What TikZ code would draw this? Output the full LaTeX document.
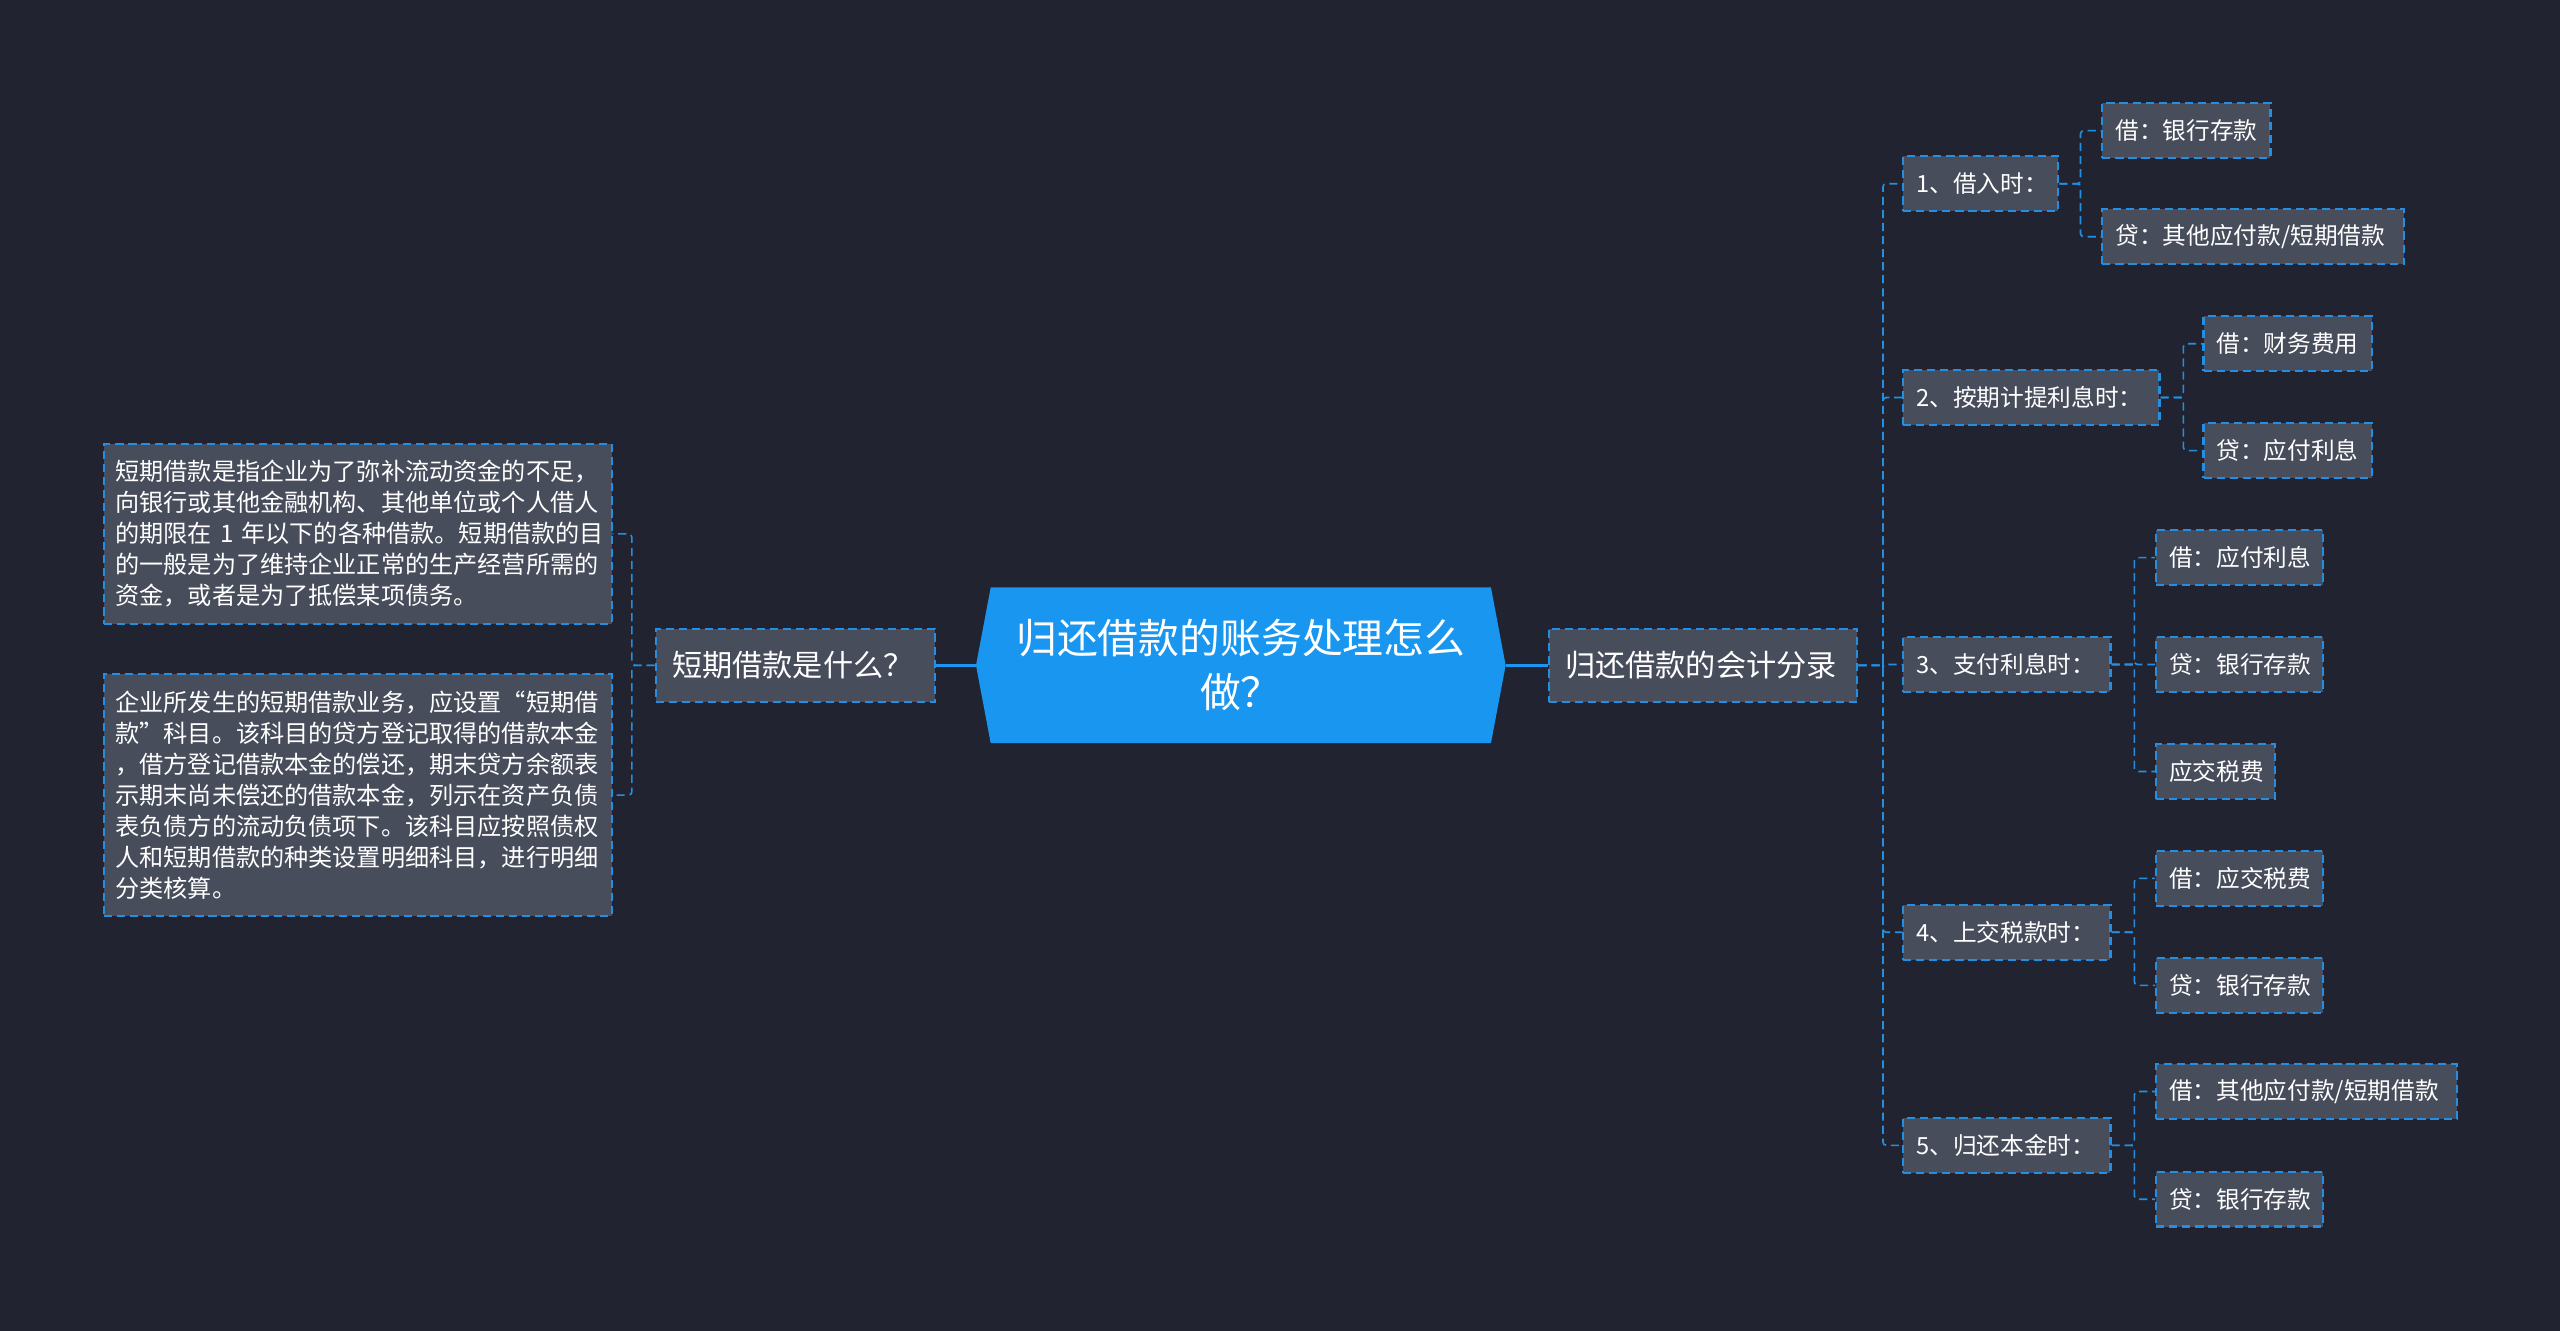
\documentclass[tikz,border=0pt]{standalone}
\usepackage{fontspec}
\setmainfont{Noto Sans CJK SC}
\usetikzlibrary{calc,backgrounds}
\definecolor{bgcol}{RGB}{33,36,48}
\definecolor{boxfill}{RGB}{72,77,92}
\definecolor{bordercol}{RGB}{36,142,226}
\definecolor{rootblue}{RGB}{24,150,240}
\tikzset{
  box/.style={draw=bordercol, fill=boxfill, dash pattern=on 5pt off 3pt, line width=1.3pt,
    text=white, font=\fontsize{14.5}{19}\selectfont, inner xsep=8pt, inner ysep=0pt,
    minimum height=33.5pt, anchor=west, align=left},
  bigbox/.style={box, font=\fontsize{18.5}{22}\selectfont, inner xsep=10pt, minimum height=45pt},
  parabox/.style={box, font=\fontsize{14.8}{19}\selectfont, text width=297pt, inner xsep=7pt, inner ysep=7pt},
  conn/.style={draw=bordercol, line width=1pt, dash pattern=on 5pt off 3pt, rounded corners=2pt},
  rootline/.style={draw=rootblue, line width=2.2pt},
}
\begin{document}
\begin{tikzpicture}[x=1pt,y=-1pt]
\begin{scope}[on background layer]
\fill[bgcol] (0,0) rectangle (1568,815);
\end{scope}
\useasboundingbox (0,0) rectangle (1568,815);

% root
\node[text=white, font=\fontsize{25}{33}\selectfont, minimum width=306pt, minimum height=95pt,
      text width=290pt, align=center, inner sep=0pt] (root) at (760,407.5)
      {归还借款的账务处理怎么\\做？};
\begin{scope}[on background layer]
\fill[rootblue] (root.north west) -- ([xshift=-9pt]root.west) -- (root.south west)
   -- (root.south east) -- ([xshift=9pt]root.east) -- (root.north east) -- cycle;
\end{scope}

% first level
\node[bigbox, text width=151pt] (q) at (401,407.5) {短期借款是什么？};
\node[bigbox, text width=169pt] (r) at (948,407.5) {归还借款的会计分录};

% left paragraphs
\node[parabox, minimum height=110pt] (la) at (63,327) {短期借款是指企业为了弥补流动资金的不足，\\向银行或其他金融机构、其他单位或个人借人\\\mbox{的期限在 1 年以下的各种借款。短期借款的目}\\的一般是为了维持企业正常的生产经营所需的\\资金，或者是为了抵偿某项债务。};
\node[parabox, minimum height=148pt] (lb) at (63,487) {企业所发生的短期借款业务，应设置“短期借\\款”科目。该科目的贷方登记取得的借款本金\\，借方登记借款本金的偿还，期末贷方余额表\\示期末尚未偿还的借款本金，列示在资产负债\\表负债方的流动负债项下。该科目应按照债权\\人和短期借款的种类设置明细科目，进行明细\\分类核算。};

% second level
\node[box, text width=79pt] (a1) at (1165,112.5) {1、借入时：};
\node[box, text width=141pt] (a2) at (1165,243.5) {2、按期计提利息时：};
\node[box, text width=111pt] (a3) at (1165,407) {3、支付利息时：};
\node[box, text width=111pt] (a4) at (1165,571) {4、上交税款时：};
\node[box, text width=111pt] (a5) at (1165,701.5) {5、归还本金时：};

% leaves
\node[box, text width=87pt] (b11) at (1287,80) {借：银行存款};
\node[box, text width=169pt] (b12) at (1287,145) {贷：其他应付款/短期借款};
\node[box, text width=87pt] (b21) at (1349,210.5) {借：财务费用};
\node[box, text width=87pt] (b22) at (1349,276) {贷：应付利息};
\node[box, text width=86pt] (b31) at (1320,341.5) {借：应付利息};
\node[box, text width=86pt] (b32) at (1320,407) {贷：银行存款};
\node[box, text width=57pt] (b33) at (1320,472.5) {应交税费};
\node[box, text width=86pt] (b41) at (1320,538) {借：应交税费};
\node[box, text width=86pt] (b42) at (1320,603.5) {贷：银行存款};
\node[box, text width=168pt] (b51) at (1320,668.5) {借：其他应付款/短期借款};
\node[box, text width=86pt] (b52) at (1320,734.5) {贷：银行存款};

% root connectors
\draw[rootline] ([xshift=-9pt]root.west) -- (q.east);
\draw[rootline] ([xshift=9pt]root.east) -- (r.west);

% left connectors
\draw[conn] (q.west) -- ++(-14,0) |- (la.east);
\draw[conn] (q.west) -- ++(-14,0) |- (lb.east);

% right connectors
\foreach \c in {a1,a2,a3,a4,a5}{
  \draw[conn] (r.east) -- ++(15,0) |- (\c.west);
}
\foreach \c in {b11,b12}{ \draw[conn] (a1.east) -- ++(13,0) |- (\c.west); }
\foreach \c in {b21,b22}{ \draw[conn] (a2.east) -- ++(14,0) |- (\c.west); }
\foreach \c in {b31,b32,b33}{ \draw[conn] (a3.east) -- ++(14,0) |- (\c.west); }
\foreach \c in {b41,b42}{ \draw[conn] (a4.east) -- ++(14,0) |- (\c.west); }
\foreach \c in {b51,b52}{ \draw[conn] (a5.east) -- ++(14,0) |- (\c.west); }
\end{tikzpicture}
\end{document}
